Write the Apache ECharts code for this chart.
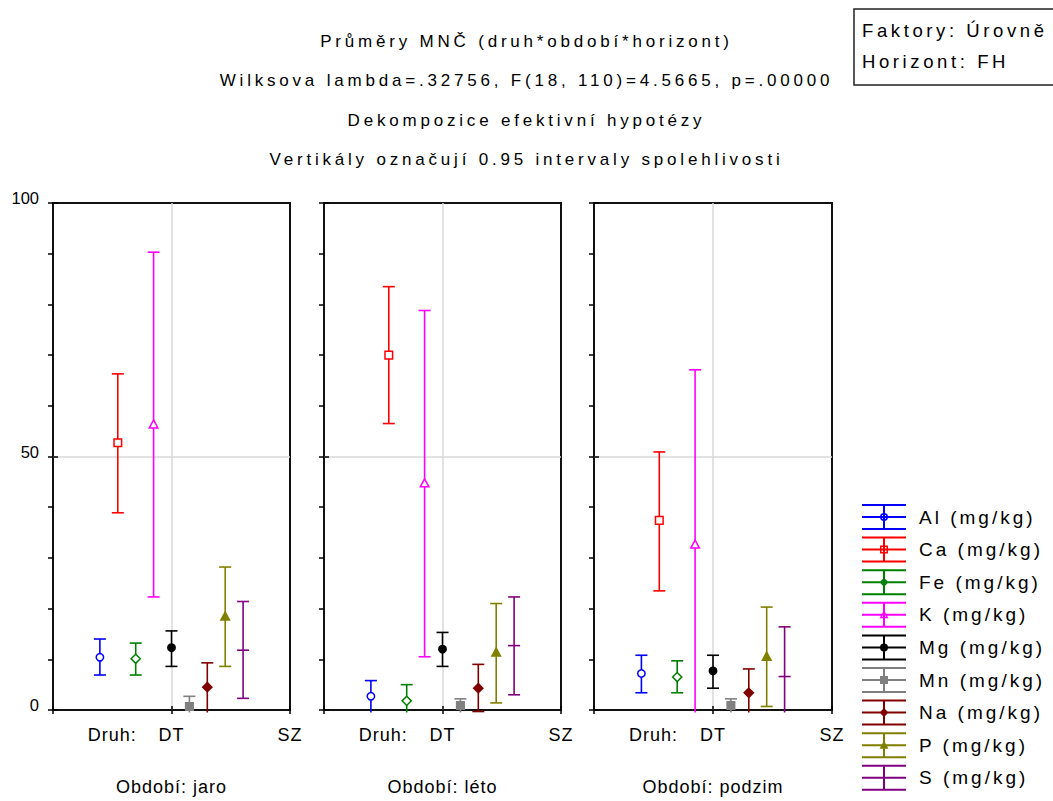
<!DOCTYPE html>
<html>
<head>
<meta charset="utf-8">
<script src="https://cdn.jsdelivr.net/npm/echarts@6/dist/echarts.min.js"></script>
<style>
  html, body { margin: 0; padding: 0; background: #fff; overflow: hidden; }
  #chart { width: 1053px; height: 801px; }
  /* wide character spacing of the statistics-package typography */
  #chart text[style*="17px"] { letter-spacing: 3.8px; }
  #chart text[style*="18.5px"] { letter-spacing: 3.6px; }
  #chart text[style*="19px"] { letter-spacing: 3px; }
  #chart text[style*="18px"] { letter-spacing: 1px; }
</style>
</head>
<body>
<div id="chart"></div>
<script>
// ---- data ----
const titleLines = [
  'Průměry MNČ (druh*období*horizont)',
  'Wilksova lambda=.32756, F(18, 110)=4.5665, p=.00000',
  'Dekompozice efektivní hypotézy',
  'Vertikály označují 0.95 intervaly spolehlivosti'
];
const factorLines = ['Faktory: Úrovně', 'Horizont: FH'];

const elements = ['Al (mg/kg)', 'Ca (mg/kg)', 'Fe (mg/kg)', 'K (mg/kg)', 'Mg (mg/kg)',
                  'Mn (mg/kg)', 'Na (mg/kg)', 'P (mg/kg)', 'S (mg/kg)'];
const colors = ['#0000ff', '#ff0000', '#008000', '#ff00ff', '#000000',
                '#808080', '#800000', '#808000', '#800080'];
const markers = ['circleOpen', 'squareOpen', 'diamondOpen', 'triangleOpen', 'circle',
                 'square', 'diamond', 'triangle', 'dash'];
const periods = ['Období: jaro', 'Období: léto', 'Období: podzim'];

const xTickValues = [0.5, 1, 2];
const xTickLabels = ['Druh:', 'DT', 'SZ'];
const druhDT = 1;              // position of species DT on the x scale

// means and lower / upper 0.95 confidence limits, per period
const jaroMean   = [10.4, 52.7, 10.1, 56.3, 12.3, 0.7, 4.5, 18.4, 11.8];
const jaroLow    = [6.9, 38.9, 6.9, 22.3, 8.6, -1.3, -0.6, 8.6, 2.3];
const jaroHigh   = [14.0, 66.3, 13.2, 90.3, 15.6, 2.7, 9.3, 28.2, 21.4];

const letoMean   = [2.7, 70.0, 1.8, 44.7, 12.0, 0.9, 4.3, 11.3, 12.7];
const letoLow    = [-0.6, 56.5, -1.4, 10.5, 8.6, -0.5, -0.3, 1.4, 3.0];
const letoHigh   = [5.8, 83.5, 5.0, 78.8, 15.3, 2.2, 9.0, 21.0, 22.3];

const podzimMean = [7.2, 37.4, 6.5, 32.6, 7.7, 0.9, 3.4, 10.5, 6.6];
const podzimLow  = [3.4, 23.5, 3.4, -1.9, 4.3, -0.5, -1.3, 0.7, -3.2];
const podzimHigh = [10.8, 50.9, 9.7, 67.1, 10.8, 2.2, 8.1, 20.3, 16.4];

const periodData = [
  [jaroMean, jaroLow, jaroHigh],
  [letoMean, letoLow, letoHigh],
  [podzimMean, podzimLow, podzimHigh]
];

// ---- layout ----
const FONT = 'Liberation Sans';
const grids = [
  { left: 53,  top: 203, width: 237, height: 510 },
  { left: 324, top: 203, width: 237, height: 510 },
  { left: 594, top: 203, width: 238, height: 510 }
];
const STEP = 17.9;   // horizontal spacing between variables around DT
const CAP = 6;       // half width of the whisker caps

function markerShape(kind, x, y, color) {
  const open = kind.endsWith('Open');
  const base = kind.replace('Open', '');
  const style = { fill: open ? '#fff' : color, stroke: color, lineWidth: 1.5 };
  if (base === 'circle') return { type: 'circle', shape: { cx: x, cy: y, r: 3.7 }, style };
  if (base === 'square') return { type: 'rect', shape: { x: x - 3.8, y: y - 3.8, width: 7.6, height: 7.6 }, style };
  if (base === 'diamond') return { type: 'polygon', shape: { points: [[x, y - 4.6], [x + 4.6, y], [x, y + 4.6], [x - 4.6, y]] }, style };
  if (base === 'triangle') return { type: 'polygon', shape: { points: [[x, y - 4.6], [x + 4.3, y + 3.4], [x - 4.3, y + 3.4]] }, style };
  return { type: 'line', shape: { x1: x - CAP, y1: y, x2: x + CAP, y2: y }, style: { stroke: color, lineWidth: 1.6 } };
}

function makeRender(k) {
  return function (params, api) {
    const cs = params.coordSys;
    const c = api.coord([api.value(0), api.value(1)]);
    const x = c[0] + (k - 4) * STEP;
    const yMean = c[1];
    const yLo = api.coord([api.value(0), api.value(2)])[1];
    const yHi = api.coord([api.value(0), api.value(3)])[1];
    const limTop = cs.y - 2.5, limBot = cs.y + cs.height + 2.5;
    const color = api.visual('color');
    const ls = { stroke: color, lineWidth: 1.6 };
    const children = [];
    children.push({ type: 'line', shape: { x1: x, y1: Math.max(yHi, limTop), x2: x, y2: Math.min(yLo, limBot) }, style: ls });
    if (yHi >= limTop) children.push({ type: 'line', shape: { x1: x - CAP, y1: yHi, x2: x + CAP, y2: yHi }, style: ls });
    if (yLo <= limBot) children.push({ type: 'line', shape: { x1: x - CAP, y1: yLo, x2: x + CAP, y2: yLo }, style: ls });
    children.push(markerShape(markers[k], x, yMean, color));
    return { type: 'group', children };
  };
}

// legend glyph: whisker with caps, crossbar and the variable's marker (44 x 26 box)
function legendIcon(kind) {
  const bars = 'M0 0H44V2H0Z M0 12H44V14H0Z M0 24H44V26H0Z M21 0H23V26H21Z';
  const shapes = {
    circle: 'M18 13A4 4 0 1 1 26 13A4 4 0 1 1 18 13Z',
    circleHole: 'M19.6 13A2.4 2.4 0 1 0 24.4 13A2.4 2.4 0 1 0 19.6 13Z',
    square: 'M18 9H26V17H18Z',
    squareHole: 'M19.5 10.5V15.5H24.5V10.5Z',
    diamond: 'M22 8.5L26.5 13L22 17.5L17.5 13Z',
    diamondHole: 'M22 10.5L19.5 13L22 15.5L24.5 13Z',
    triangle: 'M22 8.5L26.5 16.5H17.5Z',
    triangleHole: 'M22 11L19.8 15H24.2Z'
  };
  if (kind === 'dash') return 'path://' + bars;
  const base = kind.replace('Open', '');
  let p = bars + ' ' + shapes[base];
  if (kind.endsWith('Open')) p += ' ' + shapes[base + 'Hole'];
  return 'path://' + p;
}

// ---- option ----
const gridOpts = grids.map(g => Object.assign({
  show: true, borderColor: '#111', borderWidth: 2, backgroundColor: 'transparent'
}, g));

const xAxes = [], yAxes = [], series = [];
const tickStyle = { color: '#000', width: 1.5 };
const gridLineStyle = { color: '#d8d8d8', width: 1.5 };

periods.forEach((period, p) => {
  xAxes.push({
    type: 'value', gridIndex: p, min: 0, max: 2, interval: 1, position: 'bottom',
    axisLine: { show: false },
    axisTick: { show: true, inside: true, length: 4, lineStyle: tickStyle },
    splitLine: { show: true, showMinLine: false, showMaxLine: false, lineStyle: gridLineStyle },
    axisLabel: {
      customValues: xTickValues,
      formatter: v => { const i = xTickValues.indexOf(v); return i >= 0 ? xTickLabels[i] : ''; },
      fontSize: 18, fontFamily: FONT, color: '#000', margin: 16
    },
    name: period, nameLocation: 'middle', nameGap: 68,
    nameTextStyle: { fontSize: 18, fontFamily: FONT, color: '#000' }
  });
  xAxes.push({
    type: 'value', gridIndex: p, min: 0, max: 2, interval: 1, position: 'top',
    axisLine: { show: false },
    axisTick: { show: true, inside: true, length: 4, lineStyle: tickStyle },
    axisLabel: { show: false }, splitLine: { show: false }
  });
  yAxes.push({
    type: 'value', gridIndex: p, min: 0, max: 100, interval: 50, position: 'left',
    axisLine: { show: false },
    axisTick: { show: true, inside: true, length: 5, lineStyle: tickStyle },
    splitLine: { show: true, showMinLine: false, showMaxLine: false, lineStyle: gridLineStyle },
    axisLabel: { show: p === 0, fontSize: 16.5, fontFamily: FONT, color: '#000', margin: 14,
                 verticalAlign: 'bottom', lineHeight: 10 }
  });
  yAxes.push({
    type: 'value', gridIndex: p, min: 0, max: 100, interval: 10, position: 'right',
    axisLine: { show: false },
    axisTick: { show: true, inside: true, length: 5, lineStyle: tickStyle },
    axisLabel: { show: false }, splitLine: { show: false }
  });

  const [mean, low, high] = periodData[p];
  elements.forEach((name, k) => {
    series.push({
      type: 'custom', name,
      xAxisIndex: p * 2, yAxisIndex: p * 2,
      itemStyle: { color: colors[k] },
      renderItem: makeRender(k),
      encode: { x: 0, y: [1, 2, 3] },
      data: [[druhDT, mean[k], low[k], high[k]]],
      clip: false, silent: true
    });
  });
});

const option = {
  animation: false,
  backgroundColor: '#fff',
  textStyle: { fontFamily: FONT },
  title: {
    left: 'center', top: 22, padding: 0,
    text: titleLines.join('\n'),
    textStyle: { fontSize: 17, fontWeight: 'normal', fontFamily: FONT, color: '#000', lineHeight: 39.3 }
  },
  legend: {
    orient: 'vertical', left: 862, top: 504, padding: 0,
    itemWidth: 44, itemHeight: 26, itemGap: 6.6,
    selectedMode: false,
    itemStyle: { borderWidth: 0 },
    textStyle: { fontSize: 19, fontFamily: FONT, color: '#000', padding: [0, 0, 0, 8] },
    data: elements.map((n, k) => ({ name: n, icon: legendIcon(markers[k]) }))
  },
  graphic: [
    { type: 'rect', shape: { x: 854, y: 9, width: 260, height: 76 },
      style: { fill: '#fff', stroke: '#222', lineWidth: 1.5 } },
    { type: 'text', x: 862, y: 30,
      style: { text: factorLines[0], fontSize: 18.5, fontFamily: FONT, fill: '#000', verticalAlign: 'middle' } },
    { type: 'text', x: 862, y: 61,
      style: { text: factorLines[1], fontSize: 18.5, fontFamily: FONT, fill: '#000', verticalAlign: 'middle' } }
  ],
  grid: gridOpts,
  xAxis: xAxes,
  yAxis: yAxes,
  series
};

const chart = echarts.init(document.getElementById('chart'), null, { renderer: 'svg' });
chart.setOption(option);
</script>
</body>
</html>
